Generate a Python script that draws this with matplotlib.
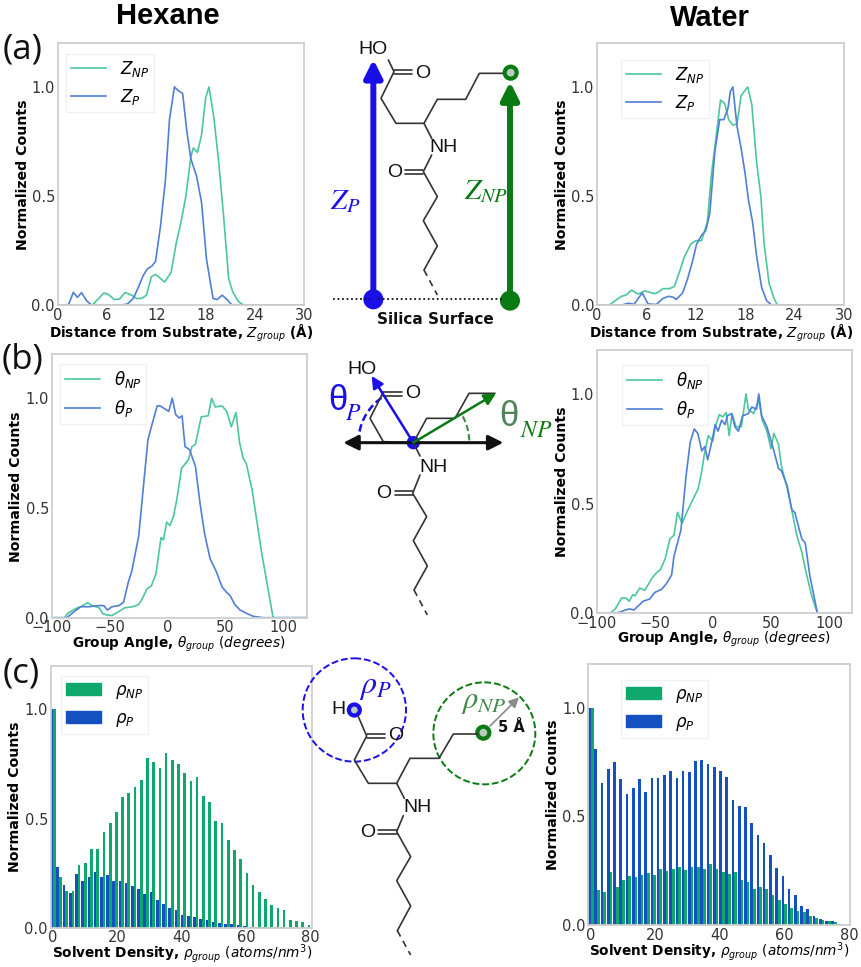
import numpy as np
import matplotlib
matplotlib.use("Agg")
import matplotlib.pyplot as plt
from matplotlib.patches import Circle, Arc, Patch
from matplotlib.transforms import Affine2D

W, H = 862, 967
GREEN_L, BLUE_L = "#4cc79c", "#4f7fd6"
GREEN_B, BLUE_B = "#0ea86c", "#1450c0"
GRID = "#cfcfcf"

# Panel (a) Hexane
a_h_np_x = [0,4.2,5.0,5.6,6.1,6.9,7.5,8.2,9,9.6,10.2,10.8,11.4,11.9,12.4,13,13.8,14.4,15,15.6,16.2,16.5,17,17.5,18,18.4,19,19.6,20.2,20.8,21.3,22,22.6,30]
a_h_np_y = [0,0,.03,.055,.05,.025,.027,.057,.045,.03,.03,.045,.13,.14,.125,.105,.15,.28,.38,.5,.68,.72,.70,.78,.95,1.0,.86,.65,.40,.12,.06,.015,0,0]
a_h_p_x = [0,1.3,1.9,2.4,2.9,3.5,4.1,7.8,8.5,9.2,9.8,10.4,10.9,11.5,11.9,12.5,13.1,13.6,14.2,14.6,15.2,15.7,16.2,16.9,17.5,18.1,18.9,19.4,20,20.6,21.2,30]
a_h_p_y = [0,0,.058,.035,.057,.02,0,0,.005,.03,.08,.135,.165,.18,.20,.36,.57,.85,1.0,.985,.97,.80,.67,.59,.47,.21,.03,.025,.045,.025,0,0]
# Panel (a) Water
a_w_np_x = [0,1.5,2.2,3,3.5,4.2,5,5.8,6.4,7,7.5,8,8.8,9.4,10,10.6,11.4,12,12.7,13.4,13.9,14.4,15,15.5,16,16.5,17,17.5,18.3,18.8,19.4,19.9,20.3,20.9,21.5,21.9,30]
a_w_np_y = [0,0,.02,.04,.045,.068,.05,.065,.058,.052,.06,.075,.075,.085,.15,.22,.28,.295,.295,.38,.6,.75,.94,.925,.85,.825,.83,.96,1.0,.92,.65,.5,.28,.1,.03,0,0]
a_w_p_x = [0,3,3.8,4.5,5,5.5,6.2,7.2,8,8.7,9.3,9.6,10.4,11,11.6,12.1,12.7,13.2,13.7,14.3,14.9,15.4,15.9,16.2,16.5,17,17.5,18,18.4,18.9,19.4,20,20.6,21.2,30]
a_w_p_y = [0,0,.008,.003,.03,.055,.005,.002,.03,.04,.035,.025,.055,.12,.2,.28,.32,.34,.42,.7,.85,.85,.9,.98,1.0,.82,.72,.6,.48,.38,.22,.08,.02,0,0]
# Panel (b) Hexane
b_h_np_x = [-100,-89,-86,-80,-75,-69,-65,-59,-56,-52,-48,-43,-37,-30,-25,-22,-18,-14,-10,-5.7,-3.6,-.8,2,5,8,12,18,21,24,29,35,38,41,47,51,55,59,62,65,68,73,77,81,85,91,120]
b_h_np_y = [0,0,.02,.04,.05,.068,.055,.045,.018,.012,.01,.025,.045,.05,.06,.085,.13,.145,.2,.365,.355,.435,.42,.46,.54,.68,.72,.78,.79,.915,.92,1.0,.96,.965,.94,.87,.935,.80,.73,.70,.58,.44,.3,.18,0,0]
b_h_p_x = [-100,-87,-80,-75,-68,-60,-55,-52,-48,-42,-38,-34,-31,-25,-21,-17,-14,-9,-6.5,-2,1,4,7,10,12.5,15,19,24,28,32,36.6,42,47,51,54,58,62.5,68,74,82.6,120]
b_h_p_y = [0,0,.03,.05,.05,.055,.055,.035,.05,.055,.07,.16,.21,.37,.59,.81,.87,.965,.965,.95,.94,1.0,.925,.91,.92,.78,.765,.69,.52,.38,.27,.21,.14,.115,.10,.06,.035,.02,.006,0,0]
# Panel (b) Water
b_w_np_x = [-100,-88.5,-84,-78.5,-75,-72,-69,-67,-63,-58.5,-52.5,-48.5,-45,-41,-37,-33.5,-30.5,-26.5,-22.5,-18,-12.5,-9.5,-7.5,-4,0,2,5.5,8.5,11.5,14,16.5,20,24.5,28.5,30.5,35,39.5,42.5,46.5,50,52.5,56.5,59,63.5,68,72,76.5,80.5,85,90,120]
b_w_np_y = [0,0,.02,.07,.07,.055,.085,.08,.115,.105,.16,.185,.20,.25,.34,.355,.46,.41,.46,.51,.57,.65,.72,.81,.785,.85,.905,.895,.915,.81,.91,.85,.85,1.0,.93,.91,.97,.88,.83,.75,.82,.77,.67,.58,.47,.36,.28,.18,.08,0,0]
b_w_p_x = [-100,-85.5,-80,-75.5,-71.5,-68,-64,-60,-54.5,-50,-44,-40,-35.5,-33.5,-27.5,-23,-19.5,-16,-13,-9.5,-7,-4.5,-1,2,4.5,7.5,10.5,12.5,16,19,22,25.5,30.5,33.5,37.5,39.5,42,46.5,52,56.5,59,64,68,70.5,76.5,79.5,83.5,90,120]
b_w_p_y = [0,0,.005,.015,.02,.015,.035,.055,.065,.095,.11,.135,.175,.26,.38,.63,.78,.84,.82,.74,.76,.70,.78,.86,.83,.88,.86,.90,.91,.85,.83,.90,.91,.94,.93,1.0,.90,.85,.75,.66,.65,.58,.47,.46,.34,.32,.17,0,0]
# Panel (c) histograms: one value per density bin
c_bin = 1.93
c_h_np = [1.0,.23,.17,.17,.285,.295,.36,.36,.44,.48,.53,.60,.615,.645,.675,.775,.76,.73,.80,.77,.75,.71,.67,.69,.605,.575,.49,.48,.40,.355,.315,.25,.195,.165,.13,.105,.09,.08,.035,.03,.025,.012]
c_h_p = [1.0,.28,.195,.16,.245,.215,.23,.255,.23,.24,.215,.215,.205,.19,.175,.155,.165,.125,.11,.09,.08,.06,.055,.05,.04,.035,.025,.02,.015,.015,.012,.01,.005,.005,.003,.003,.002,.002,0,0,0,0]
c_w_np = [1.0,.16,.155,.245,.175,.21,.225,.22,.23,.24,.23,.26,.25,.26,.27,.255,.27,.27,.26,.28,.26,.245,.235,.245,.21,.20,.165,.175,.165,.14,.115,.10,.08,.065,.06,.045,.035,.025,.02,.015,.008,.003]
c_w_p = [1.0,.81,.655,.72,.75,.67,.605,.63,.67,.61,.675,.675,.69,.71,.675,.71,.705,.755,.76,.74,.725,.71,.68,.575,.55,.545,.47,.415,.38,.325,.265,.225,.165,.14,.09,.075,.045,.03,.02,.018,.008,.003]

XL_A = "Distance from Substrate, $Z_{group}$ (\u00c5)"
XL_B = r"Group Angle, $\theta_{group}$ $(degrees)$"
XL_C = r"Solvent Density, $\rho_{group}$ $(atoms/nm^3)$"

fig = plt.figure(figsize=(W/100, H/100), dpi=100)
PX = Affine2D().scale(1/W, -1/H).translate(0, 1) + fig.transFigure


def make_ax(l, t, r, b, xlim, xticks, xlabel, xlab_pos, ylab_pos):
    ax = fig.add_axes([l/W, 1-b/H, (r-l)/W, (b-t)/H])
    ax.set_xlim(*xlim)
    ax.set_ylim(0, 1.2)
    ax.set_xticks(xticks)
    ax.set_yticks([0, .5, 1.0])
    ax.tick_params(length=0, labelsize=10.5, labelcolor="#333333", pad=2)
    ax.set_ylabel("Normalized Counts", fontweight="bold", fontsize=10.2, va="center")
    ax.set_xlabel(xlabel, fontweight="bold", fontsize=9.8, va="center")
    ax.xaxis.set_label_coords(*xlab_pos, transform=PX)
    ax.yaxis.set_label_coords(*ylab_pos, transform=PX)
    for s in ax.spines.values():
        s.set_color(GRID)
        s.set_linewidth(1.3)
    return ax


def legend(ax, handles, labels, x, y):
    ax.legend(handles, labels, loc="upper left", bbox_to_anchor=(x/W, 1-y/H),
              bbox_transform=fig.transFigure, borderaxespad=0, fontsize=12,
              framealpha=.8, edgecolor="#eeeeee", fancybox=False,
              handlelength=2.1, handletextpad=.85, labelspacing=.5, borderpad=.28)


def line_panel(box, xlim, xticks, xlabel, np_xy, p_xy, labels, leg, xp, yp):
    ax = make_ax(*box, xlim, xticks, xlabel, xp, yp)
    l1, = ax.plot(*np_xy, color=GREEN_L, lw=1.2)
    l2, = ax.plot(*p_xy, color=BLUE_L, lw=1.2)
    legend(ax, [l1, l2], labels, *leg)


def bar_panel(box, xlim, xlabel, v_np, v_p, labels, leg, xp, yp):
    ax = make_ax(*box, xlim, [0, 20, 40, 60, 80], xlabel, xp, yp)
    x = np.arange(len(v_np)) * c_bin
    w = 0.83
    ax.bar(x - w/2, v_p, w, color=BLUE_B)
    ax.bar(x + w/2, v_np, w, color=GREEN_B)
    legend(ax, [Patch(color=GREEN_B), Patch(color=BLUE_B)], labels, *leg)


za = [0, 6, 12, 18, 24, 30]
tb = [-100, -50, 0, 50, 100]
zl = ["$Z_{NP}$", "$Z_{P}$"]
tl = [r"$\theta_{NP}$", r"$\theta_{P}$"]
rl = [r"$\rho_{NP}$", r"$\rho_{P}$"]
line_panel((57.7, 43.3, 304.3, 305), (0, 30), za, XL_A, (a_h_np_x, a_h_np_y), (a_h_p_x, a_h_p_y), zl, (66, 54), (181, 333.5), (22.7, 175))
line_panel((597, 43.3, 844, 305), (0, 30), za, XL_A, (a_w_np_x, a_w_np_y), (a_w_p_x, a_w_p_y), zl, (621, 60), (721, 333.5), (562, 175))
line_panel((51.7, 354.3, 306.7, 617.7), (-100, 120), tb, XL_B, (b_h_np_x, b_h_np_y), (b_h_p_x, b_h_p_y), tl, (60, 364), (179, 644.5), (15.7, 487))
line_panel((596.7, 350, 852.3, 613.3), (-100, 120), tb, XL_B, (b_w_np_x, b_w_np_y), (b_w_p_x, b_w_p_y), tl, (622, 365), (724, 639.5), (562, 482))
bar_panel((50.7, 665.7, 311.7, 927.7), (-.7, 80.4), XL_C, c_h_np, c_h_p, rl, (61, 676), (182, 954), (15, 797))
bar_panel((588.3, 664, 850, 925.3), (-.8, 80.2), XL_C, c_w_np, c_w_p, rl, (621, 680), (719, 952), (553, 795))

# Overlay in pixel coordinates for titles and the molecule schematics
ov = fig.add_axes([0, 0, 1, 1], zorder=10)
ov.set_xlim(0, W)
ov.set_ylim(H, 0)
ov.axis("off")
ov.patch.set_alpha(0)

ov.text(168, 16, "Hexane", family="Liberation Sans", weight="bold", fontsize=21, ha="center", va="center")
ov.text(710, 18, "Water", family="Liberation Sans", weight="bold", fontsize=21, ha="center", va="center")
for s, x, y in [("(a)", 23, 49), ("(b)", 23, 360), ("(c)", 21, 673)]:
    ov.text(x, y, s, family="Open Sans", fontsize=25, ha="center", va="center", color="#111111")


def Z(origin, pts):
    return [origin[0] + p[0]/3 for p in pts], [origin[1] + p[1]/3 for p in pts]


def poly(o, pts, lw=1.2, color="#333333", **kw):
    xs, ys = Z(o, pts)
    ov.plot(xs, ys, color=color, lw=lw, solid_capstyle="round", **kw)


def atom(o, p, s, fs=14, **kw):
    x, y = Z(o, [p])
    ov.text(x[0], y[0], s, family="Liberation Sans", fontsize=fs, ha="center", va="center", color=kw.pop("color", "#111111"), **kw)


def math(o, p, s, color, fs):
    x, y = Z(o, [p])
    ov.text(x[0], y[0], s, color=color, fontsize=fs, ha="center", va="center", math_fontfamily="stix")


def arrow(o, a, b, color, lw, ms):
    xa, ya = Z(o, [a, b])
    ov.annotate("", xy=(xa[1], ya[1]), xytext=(xa[0], ya[0]),
                arrowprops=dict(arrowstyle=f"-|>,head_width={ms*.5},head_length={ms}", color=color, lw=lw,
                                shrinkA=0, shrinkB=0))


def ring(o, p, r, color):
    x, y = Z(o, [p])
    ov.add_patch(Circle((x[0], y[0]), r, fc="#b8ccc0", ec=color, lw=3))


BLUE_S, GREEN_S = "#1a0fe8", "#0a7a12"

# (a) schematic
o = (320, 30)
ov.plot(*Z(o, [(40, 808), (545, 808)]), color="#111111", lw=1.3, ls=(0, (1, 1.5)))
poly(o, [(205, 90), (222, 125), (183, 205), (228, 280), (312, 280), (352, 208), (437, 208), (478, 130), (548, 130)])
poly(o, [(222, 120), (275, 120)]); poly(o, [(222, 132), (275, 132)])
poly(o, [(312, 280), (335, 325)]); poly(o, [(335, 375), (310, 425), (352, 500), (310, 572), (352, 648), (312, 720)])
poly(o, [(310, 420), (255, 420)]); poly(o, [(310, 432), (255, 432)])
ov.plot(*Z(o, [(312, 720), (352, 795)]), color="#333333", lw=1.2, ls=(0, (4, 3)))
atom(o, (160, 60), "HO"); atom(o, (308, 132), "O"); atom(o, (372, 352), "NH"); atom(o, (224, 428), "O")
arrow(o, (160, 808), (160, 88), BLUE_S, 4.3, 1.05)
arrow(o, (570, 812), (570, 155), GREEN_S, 4.3, 1.05)
for (p, c) in [((160, 808), BLUE_S), ((570, 812), GREEN_S)]:
    x, y = Z(o, [p])
    ov.add_patch(Circle((x[0], y[0]), 10, fc=c, ec="none"))
ring(o, (572, 128), 6, GREEN_S)
math(o, (75, 512), r"$Z_P$", BLUE_S, 21)
math(o, (498, 482), r"$Z_{NP}$", GREEN_S, 21)
ov.text(435, 320, "Silica Surface", weight="bold", fontsize=11, ha="center", va="center", color="#111111")

# (b) schematic
o = (320, 350)
poly(o, [(160, 85), (188, 130), (150, 205), (190, 275), (280, 278), (320, 205), (405, 205), (447, 130), (525, 130)])
poly(o, [(188, 125), (245, 125)]); poly(o, [(188, 137), (245, 137)])
poly(o, [(280, 278), (300, 318)]); poly(o, [(300, 375), (278, 430), (320, 500), (280, 572), (322, 648), (282, 720)])
poly(o, [(278, 424), (225, 424)]); poly(o, [(278, 436), (225, 436)])
ov.plot(*Z(o, [(282, 720), (322, 795)]), color="#333333", lw=1.2, ls=(0, (4, 3)))
atom(o, (125, 58), "HO"); atom(o, (277, 132), "O"); atom(o, (342, 352), "NH"); atom(o, (192, 430), "O")
arrow(o, (280, 278), (70, 278), "#111111", 2.2, .9)
arrow(o, (280, 278), (550, 278), "#111111", 2.2, .9)
arrow(o, (280, 278), (155, 78), BLUE_S, 1.8, .7)
arrow(o, (280, 278), (528, 130), GREEN_S, 1.8, .7)
cx, cy = Z(o, [(280, 278)])
ov.add_patch(Circle((cx[0], cy[0]), 6.7, fc=BLUE_S, ec="none"))
ov.add_patch(Arc((cx[0], cy[0]), 110, 110, theta1=180, theta2=238, color=BLUE_S, lw=1.8, ls=(0, (3, 1.5))))
ov.add_patch(Arc((cx[0], cy[0]), 112, 112, theta1=332, theta2=360, color="#3f8a48", lw=1.5, ls=(0, (3, 1.5))))
atom(o, (55, 150), "\u03b8", fs=25, color=BLUE_S)
math(o, (98, 190), r"$P$", BLUE_S, 17)
atom(o, (568, 198), "\u03b8", fs=25, color="#4f8458")
math(o, (650, 240), r"$NP$", GREEN_S, 17)

# (c) schematic
o = (295, 650)
poly(o, [(190, 200), (215, 258), (178, 330), (220, 400), (305, 400), (345, 325), (432, 325), (475, 252), (548, 252)])
poly(o, [(215, 252), (270, 252)]); poly(o, [(215, 264), (270, 264)])
poly(o, [(305, 400), (328, 445)]); poly(o, [(325, 497), (305, 545), (347, 620), (305, 692), (347, 768), (307, 842)])
poly(o, [(305, 539), (250, 539)]); poly(o, [(305, 551), (250, 551)])
ov.plot(*Z(o, [(307, 842), (347, 915)]), color="#333333", lw=1.2, ls=(0, (4, 3)))
atom(o, (130, 180), "H"); atom(o, (302, 255), "O"); atom(o, (368, 472), "NH"); atom(o, (218, 548), "O")
for p, r, c in [((178, 180), 155/3, "#1a0fe8"), ((568, 250), 153/3, GREEN_S)]:
    x, y = Z(o, [p])
    ov.add_patch(Circle((x[0], y[0]), r, fc="none", ec=c, lw=1.4, ls=(0, (3.5, 1.5))))
ring(o, (178, 180), 5.5, BLUE_S)
ring(o, (565, 248), 6, GREEN_S)
arrow(o, (585, 228), (672, 142), "#8a8a8a", 1.2, .6)
x, y = Z(o, [(650, 232)])
ov.text(x[0], y[0], "5 \u00c5", weight="bold", fontsize=10.5, ha="center", va="center", color="#111111")
math(o, (240, 110), r"$\rho_P$", BLUE_S, 23)
math(o, (567, 155), r"$\rho_{NP}$", "#3f8a48", 22)

fig.savefig("out.png", dpi=100)
